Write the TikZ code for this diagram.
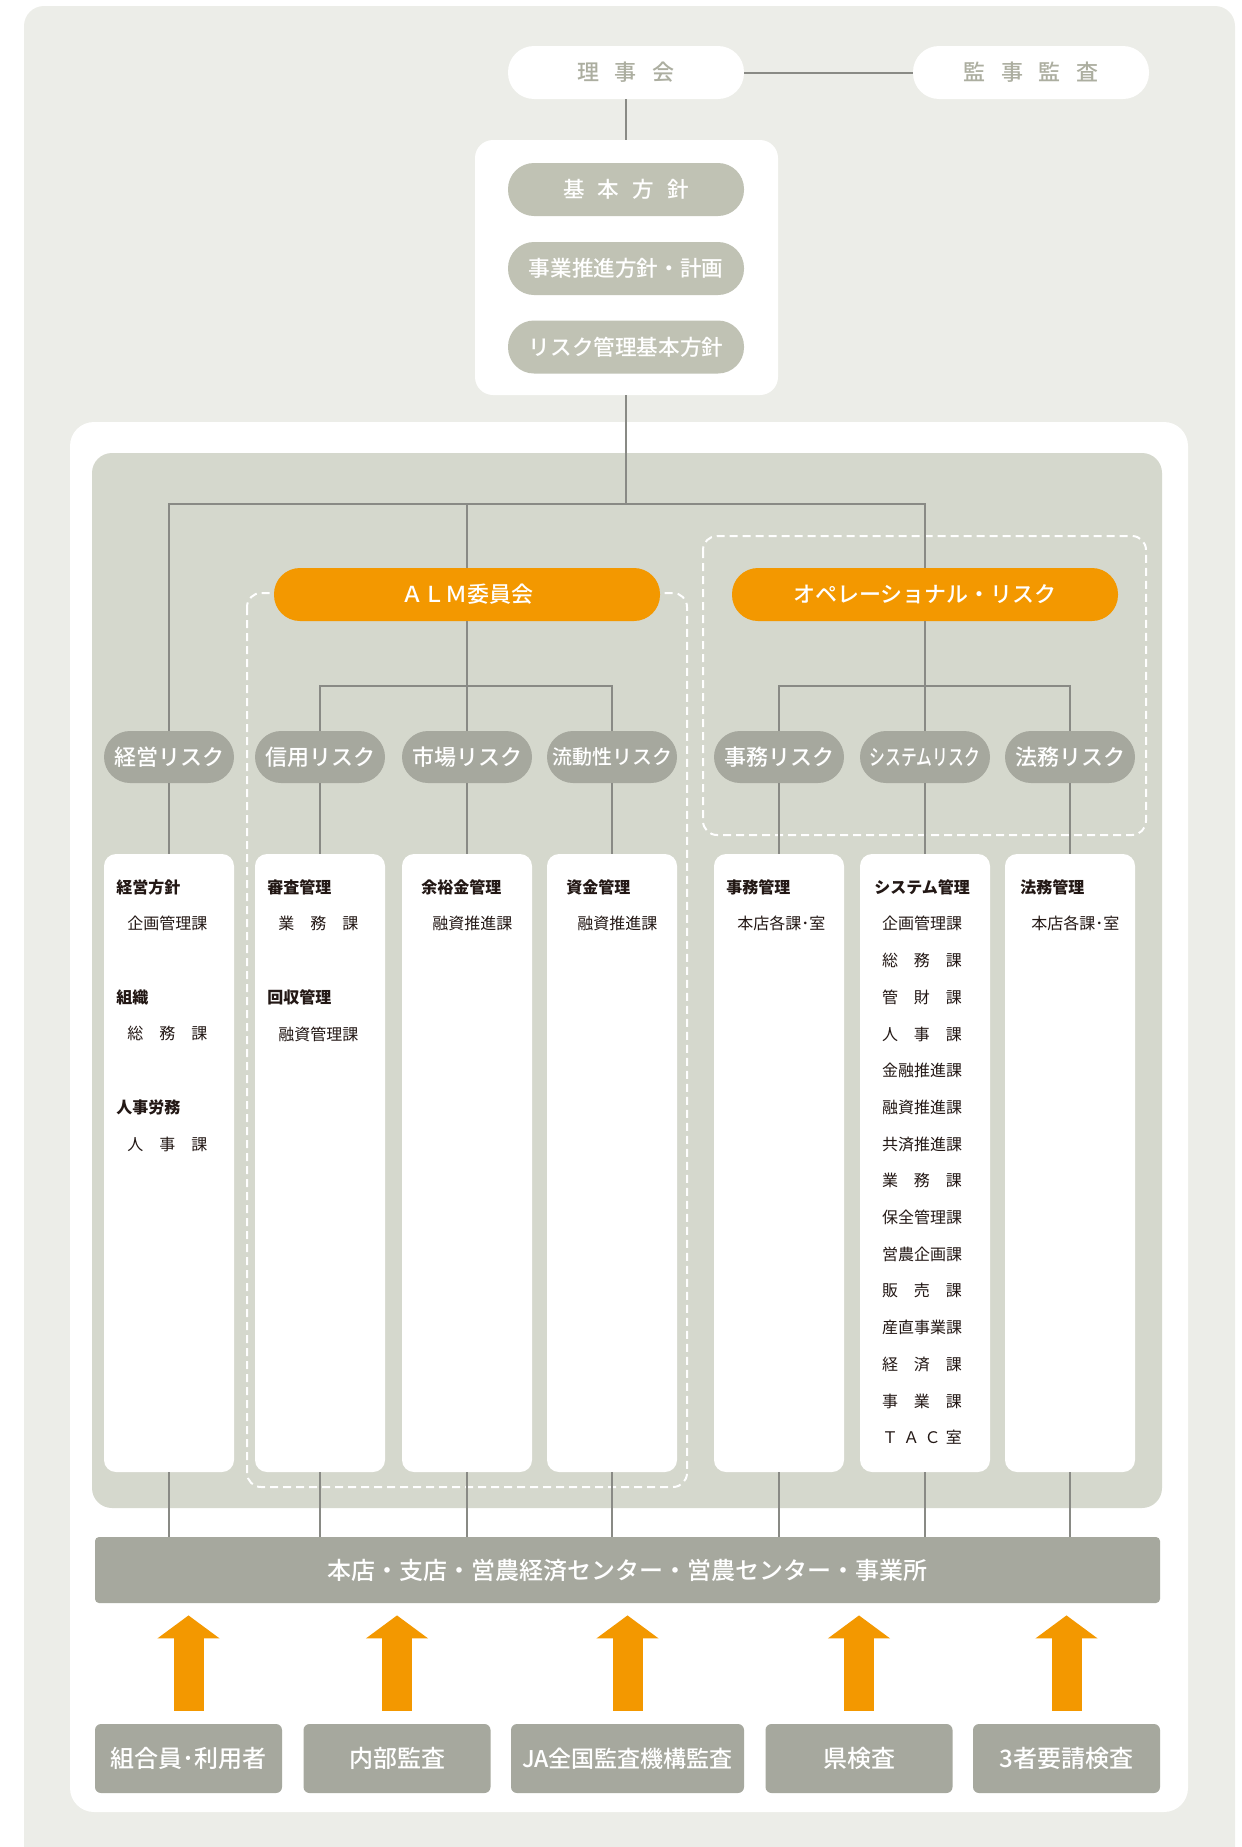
\documentclass[tikz,border=0pt]{standalone}
\usepackage{fontspec}
\usepackage{graphicx}
\setmainfont{Noto Sans CJK JP}
\newfontfamily\mediumfont{Noto Sans CJK JP Medium}
\usetikzlibrary{arrows.meta,calc}
\definecolor{pagebg}{RGB}{236,237,232}
\definecolor{panelgray}{RGB}{213,216,205}
\definecolor{policygray}{RGB}{192,194,180}
\definecolor{riskgray}{RGB}{166,168,158}
\definecolor{almorange}{RGB}{243,152,0}
\definecolor{linegray}{RGB}{137,138,133}
\definecolor{boardtext}{RGB}{172,174,160}
\definecolor{inktext}{RGB}{35,24,21}

\begin{document}
\begin{tikzpicture}[
  x=0.5pt, y=-0.5pt,
  board/.style={
    fill=white,
    rounded corners=13pt,
    minimum width=118pt,
    minimum height=26.5pt,
    inner sep=0pt,
    text=boardtext,
    font=\mediumfont\fontsize{11pt}{13pt}\selectfont
  },
  policy/.style={
    fill=policygray,
    rounded corners=13pt,
    minimum width=118pt,
    minimum height=26.5pt,
    inner sep=0pt,
    text=white,
    font=\mediumfont\fontsize{10.8pt}{13pt}\selectfont
  },
  committee/.style={
    fill=almorange,
    rounded corners=13pt,
    minimum width=193pt,
    minimum height=26.5pt,
    inner sep=0pt,
    text=white,
    font=\mediumfont\fontsize{11pt}{13pt}\selectfont
  },
  risk/.style={
    fill=riskgray,
    rounded corners=13pt,
    minimum width=65pt,
    minimum height=26pt,
    inner sep=0pt,
    text=white,
    font=\mediumfont\fontsize{11pt}{13pt}\selectfont
  },
  column/.style={
    fill=white,
    rounded corners=6pt,
    minimum width=65pt,
    minimum height=309pt,
    inner sep=0pt
  },
  note/.style={anchor=north west, align=left, inner sep=0pt, text=inktext,
    font=\fontsize{8pt}{18.35pt}\selectfont},
  sitebar/.style={
    fill=riskgray,
    rounded corners=2pt,
    minimum width=532.5pt,
    minimum height=33pt,
    inner sep=0pt,
    text=white,
    font=\mediumfont\fontsize{12pt}{14pt}\selectfont
  },
  audit/.style={
    fill=riskgray,
    rounded corners=3pt,
    minimum width=93.5pt,
    minimum height=34.5pt,
    inner sep=0pt,
    text=white,
    font=\mediumfont\fontsize{12pt}{14pt}\selectfont
  },
  line/.style={draw=linegray, line width=1pt},
  uparrow/.style={draw=almorange, line width=15pt,
    -{Triangle[length=11.5pt,width=30.5pt]}, shorten <=6.5pt, shorten >=6pt},
  dashbox/.style={draw=white, line width=1pt, dash pattern=on 4pt off 2.5pt, rounded corners=7pt}
]

% Page, white sheet and grey panel
\useasboundingbox (0,0) rectangle (1242,1847);
\fill[pagebg, rounded corners=10pt] (24,6) rectangle (1235,1890);
\fill[white, rounded corners=12pt] (70,422) rectangle (1188,1812);
\fill[panelgray, rounded corners=10pt] (92,453) rectangle (1162,1508);

% Board and auditors
\node[board] (rijikai) at (626,72.5) {理\hspace{0.7em}事\hspace{0.7em}会};
\node[board] (kansa) at (1031,72.5) {監\hspace{0.7em}事\hspace{0.7em}監\hspace{0.7em}査};
\draw[line] (rijikai) -- (kansa);

% Basic policies
\node[fill=white, rounded corners=9pt, minimum width=151.5pt, minimum height=127.5pt] (policybox) at (626.5,267.5) {};
\node[policy] (kihon) at (626,189.5) {基\hspace{0.6em}本\hspace{0.6em}方\hspace{0.6em}針};
\node[policy] (jigyo) at (626,268.5) {事業推進方針・計画};
\node[policy] (riskpolicy) at (626,347) {リスク管理基本方針};
\draw[line] (rijikai) -- (rijikai |- policybox.north);

% Groups
\draw[dashbox] (247,593) rectangle (687,1487);
\draw[dashbox] (703,536) rectangle (1146,835);

% Committees
\node[committee] (alm) at (467,594.5) {ＡＬＭ委員会};
\node[committee] (oprisk) at (925,594.5) {オペレーショナル・リスク};

% Risk categories
\node[risk] (keiei) at (169,757) {経営リスク};
\node[risk] (shinyo) at (320,757) {信用リスク};
\node[risk] (shijo) at (467,757) {市場リスク};
\node[risk, font=\mediumfont\fontsize{10pt}{12pt}\selectfont] (ryudo) at (612,757) {流動性リスク};
\node[risk] (jimu) at (779,757) {事務リスク};
\node[risk] (system) at (925,757) {\scalebox{0.72}[1]{システムリスク}};
\node[risk] (homu) at (1070,757) {法務リスク};

% Tree
\coordinate (hub) at (626,504);
\draw[line] (policybox.south -| hub) -- (hub);
\draw[line] (hub) -| (keiei);
\draw[line] (hub) -| (alm);
\draw[line] (hub) -| (oprisk);
\coordinate (almhub) at (467,686);
\draw[line] (alm) -- (almhub);
\draw[line] (almhub) -| (shinyo);
\draw[line] (almhub) -- (shijo);
\draw[line] (almhub) -| (ryudo);
\coordinate (ophub) at (925,686);
\draw[line] (oprisk) -- (ophub);
\draw[line] (ophub) -| (jimu);
\draw[line] (ophub) -- (system);
\draw[line] (ophub) -| (homu);

% Management columns
\node[column] (keieicol) at (169,1163) {};
\node[column] (shinyocol) at (320,1163) {};
\node[column] (shijocol) at (467,1163) {};
\node[column] (ryudocol) at (612,1163) {};
\node[column] (jimucol) at (779,1163) {};
\node[column] (systemcol) at (925,1163) {};
\node[column] (homucol) at (1070,1163) {};
\draw[line] (keiei) -- (keieicol);
\draw[line] (shinyo) -- (shinyocol);
\draw[line] (shijo) -- (shijocol);
\draw[line] (ryudo) -- (ryudocol);
\draw[line] (jimu) -- (jimucol);
\draw[line] (system) -- (systemcol);
\draw[line] (homu) -- (homucol);

\node[note] (keieinote) at (116,879) {{\bfseries 経営方針}\\\hspace*{5.5pt}企画管理課\\[18.35pt]{\bfseries 組織}\\\hspace*{5.5pt}総\quad 務\quad 課\\[18.35pt]{\bfseries 人事労務}\\\hspace*{5.5pt}人\quad 事\quad 課};
\node[note] (shinyonote) at (267,879) {{\bfseries 審査管理}\\\hspace*{5.5pt}業\quad 務\quad 課\\[18.35pt]{\bfseries 回収管理}\\\hspace*{5.5pt}融資管理課};
\node[note] (shijonote) at (421,879) {{\bfseries 余裕金管理}\\\hspace*{5.5pt}融資推進課};
\node[note] (ryudonote) at (566,879) {{\bfseries 資金管理}\\\hspace*{5.5pt}融資推進課};
\node[note] (jimunote) at (726,879) {{\bfseries 事務管理}\\\hspace*{5.5pt}本店各課･室};
\node[note, anchor=north, align=center] (systemnote) at (922,879) {{\bfseries システム管理}\\企画管理課\\総\quad 務\quad 課\\管\quad 財\quad 課\\人\quad 事\quad 課\\金融推進課\\融資推進課\\共済推進課\\業\quad 務\quad 課\\保全管理課\\営農企画課\\販\quad 売\quad 課\\産直事業課\\経\quad 済\quad 課\\事\quad 業\quad 課\\Ｔ\hspace{.333em}Ａ\hspace{.333em}Ｃ\hspace{.333em}室};
\node[note] (homunote) at (1020,879) {{\bfseries 法務管理}\\\hspace*{5.5pt}本店各課･室};

% Branches
\node[sitebar] (site) at (627.5,1570) {本店・支店・営農経済センター・営農センター・事業所};
\draw[line] (keieicol) -- (keieicol |- site.north);
\draw[line] (shinyocol) -- (shinyocol |- site.north);
\draw[line] (shijocol) -- (shijocol |- site.north);
\draw[line] (ryudocol) -- (ryudocol |- site.north);
\draw[line] (jimucol) -- (jimucol |- site.north);
\draw[line] (systemcol) -- (systemcol |- site.north);
\draw[line] (homucol) -- (homucol |- site.north);

% Checks from outside
\node[audit] (members) at (188.5,1758.5) {組合員･利用者};
\node[audit] (internal) at (397,1758.5) {内部監査};
\node[audit, minimum width=116.5pt, font=\mediumfont\fontsize{11.5pt}{14pt}\selectfont] (jaaudit) at (627.5,1758.5) {JA全国監査機構監査};
\node[audit] (pref) at (859,1758.5) {県検査};
\node[audit] (thirdparty) at (1066.5,1758.5) {3者要請検査};
\draw[uparrow] (members) -- (members |- site.south);
\draw[uparrow] (internal) -- (internal |- site.south);
\draw[uparrow] (jaaudit) -- (jaaudit |- site.south);
\draw[uparrow] (pref) -- (pref |- site.south);
\draw[uparrow] (thirdparty) -- (thirdparty |- site.south);

\end{tikzpicture}
\end{document}
